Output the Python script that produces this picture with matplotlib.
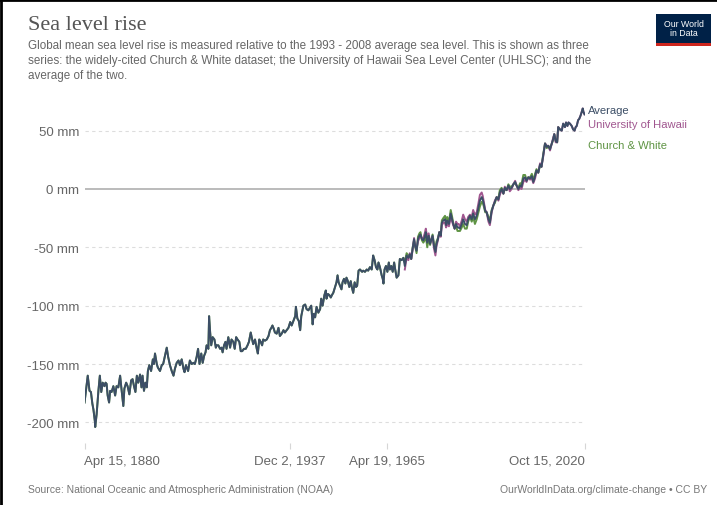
import numpy as np
import matplotlib.pyplot as plt
from matplotlib.lines import Line2D
from matplotlib.patches import Rectangle

# Average of the two series (mm)
years = [
    1880.3, 1881.2, 1881.7, 1882.1, 1882.5, 1882.8, 1883.2, 1883.3, 1883.7, 1884.2,
    1884.6, 1885.0, 1885.4, 1885.9, 1886.2, 1886.5, 1886.8, 1887.2, 1887.5, 1887.9,
    1888.4, 1888.9, 1889.3, 1889.8, 1890.3, 1890.6, 1891.0, 1891.2, 1891.5, 1892.0,
    1892.4, 1892.9, 1893.4, 1893.8, 1894.2, 1894.6, 1895.0, 1895.4, 1895.9, 1896.3,
    1896.6, 1897.0, 1897.4, 1897.8, 1898.1, 1898.5, 1899.0, 1899.5, 1899.8, 1900.1,
    1900.6, 1900.9, 1901.5, 1902.0, 1902.4, 1902.9, 1903.4, 1903.8, 1904.3, 1904.8,
    1905.3, 1905.7, 1906.2, 1906.7, 1907.1, 1907.6, 1908.1, 1908.4, 1908.8, 1909.4,
    1909.9, 1910.4, 1910.9, 1911.3, 1911.8, 1912.2, 1912.6, 1913.1, 1913.5, 1913.9,
    1914.3, 1914.6, 1915.1, 1915.3, 1915.6, 1915.9, 1916.3, 1916.8, 1917.2, 1917.4,
    1917.9, 1918.4, 1918.8, 1919.1, 1919.5, 1919.9, 1920.2, 1920.7, 1921.2, 1921.6,
    1922.1, 1922.5, 1922.9, 1923.3, 1923.8, 1924.2, 1924.6, 1925.1, 1925.6, 1926.1,
    1926.5, 1927.0, 1927.4, 1927.7, 1928.2, 1928.7, 1929.0, 1929.4, 1929.8, 1930.2,
    1930.5, 1931.0, 1931.5, 1932.0, 1932.4, 1932.8, 1933.1, 1933.5, 1933.8, 1934.3,
    1934.8, 1935.2, 1935.7, 1936.2, 1936.6, 1937.1, 1937.6, 1938.1, 1938.5, 1939.0,
    1939.5, 1939.7, 1940.1, 1940.5, 1940.9, 1941.2, 1941.8, 1942.3, 1942.7, 1943.2,
    1944.0, 1944.4, 1944.7, 1945.1, 1945.5, 1946.0, 1946.5, 1946.8, 1947.2, 1947.7,
    1948.1, 1948.3, 1948.7, 1949.1, 1949.5, 1949.8, 1950.2, 1950.7, 1951.1, 1951.4,
    1951.7, 1952.1, 1952.5, 1952.8, 1953.2, 1953.6, 1953.9, 1954.3, 1954.7, 1955.1,
    1955.4, 1955.8, 1956.2, 1956.6, 1956.9, 1957.3, 1957.7, 1958.3, 1958.6, 1959.1,
    1959.6, 1960.0, 1960.5, 1961.0, 1961.4, 1961.8, 1962.2, 1962.6, 1962.9, 1963.3,
    1963.8, 1964.1, 1964.3, 1964.6, 1965.0, 1965.4, 1965.8, 1966.1, 1966.5, 1966.9,
    1967.3, 1967.6, 1968.0, 1968.5, 1968.9, 1969.4, 1969.9, 1970.3, 1970.8, 1971.3,
    1971.7, 1972.1, 1972.5, 1972.9, 1973.2, 1973.6, 1974.0, 1974.4, 1974.7, 1975.1,
    1975.5, 1975.9, 1976.2, 1976.6, 1977.0, 1977.4, 1977.7, 1978.1, 1978.5, 1978.9,
    1979.2, 1979.6, 1980.0, 1980.4, 1980.7, 1981.1, 1981.6, 1981.9, 1982.2, 1982.7,
    1983.2, 1983.6, 1983.9, 1984.3, 1984.7, 1985.1, 1985.4, 1985.8, 1986.3, 1986.7,
    1987.2, 1987.7, 1988.1, 1988.6, 1989.1, 1989.5, 1990.0, 1990.5, 1991.0, 1991.4,
    1991.9, 1992.2, 1992.5, 1992.9, 1993.3, 1993.8, 1994.2, 1994.7, 1995.2, 1995.6,
    1996.1, 1996.6, 1997.0, 1997.5, 1998.0, 1998.4, 1998.9, 1999.4, 1999.8, 2000.3,
    2000.8, 2001.3, 2001.7, 2002.2, 2002.7, 2003.1, 2003.6, 2004.1, 2004.5, 2005.0,
    2005.5, 2006.0, 2006.4, 2006.9, 2007.3, 2007.8, 2008.3, 2008.7, 2009.2, 2009.7,
    2010.2, 2010.6, 2011.1, 2011.6, 2012.0, 2012.3, 2012.7, 2013.1, 2013.4, 2013.9,
    2014.4, 2014.8, 2015.3, 2015.6, 2016.0, 2016.3, 2016.7, 2017.2, 2017.6, 2018.0,
    2018.3, 2018.6, 2019.0, 2019.3, 2019.7, 2020.0, 2020.3, 2020.5, 2020.8,
]
average_mm = [
    -183, -160, -173, -174, -184, -189, -199, -204, -193, -173,
    -160, -174, -166, -169, -166, -167, -177, -183, -173, -174,
    -169, -177, -169, -170, -160, -169, -180, -186, -171, -166,
    -169, -176, -164, -163, -169, -174, -160, -166, -159, -170,
    -160, -173, -166, -170, -156, -151, -156, -146, -150, -141,
    -150, -153, -156, -151, -150, -143, -136, -144, -151, -156,
    -160, -154, -149, -147, -151, -146, -154, -157, -151, -156,
    -147, -150, -149, -150, -144, -137, -150, -141, -149, -143,
    -140, -134, -137, -109, -123, -134, -127, -129, -136, -134,
    -134, -137, -136, -140, -134, -131, -137, -127, -136, -129,
    -131, -137, -127, -129, -131, -139, -139, -137, -137, -134,
    -131, -123, -129, -133, -129, -137, -141, -129, -131, -134,
    -129, -130, -129, -126, -121, -119, -117, -120, -123, -124,
    -119, -126, -124, -121, -123, -121, -119, -114, -117, -113,
    -109, -101, -111, -113, -121, -109, -100, -99, -103, -104,
    -100, -116, -107, -110, -101, -106, -103, -94, -100, -91,
    -87, -94, -90, -91, -93, -91, -89, -84, -80, -74,
    -80, -83, -86, -80, -77, -81, -76, -79, -84, -79,
    -84, -89, -80, -84, -83, -70, -69, -71, -70, -71,
    -69, -70, -67, -69, -57, -61, -67, -69, -63, -67,
    -74, -77, -81, -69, -66, -71, -63, -69, -66, -71,
    -63, -69, -76, -74, -60, -61, -59, -66, -57, -59,
    -56, -60, -51, -43, -49, -53, -43, -40, -39, -43,
    -44, -41, -37, -46, -40, -47, -44, -40, -49, -54,
    -47, -43, -37, -40, -29, -27, -26, -31, -27, -30,
    -21, -26, -30, -34, -30, -33, -33, -34, -30, -26,
    -30, -31, -26, -23, -26, -21, -26, -23, -16, -10,
    -7, -9, -13, -19, -20, -26, -29, -19, -14, -11,
    -7, -9, -3, 0, -4, 1, -1, 3, 0, 1,
    4, 6, 3, 0, 3, 2, 9, 10, 7, 10,
    9, 11, 6, 11, 16, 14, 21, 19, 29, 39,
    36, 37, 34, 39, 43, 47, 41, 40, 53, 51,
    50, 56, 53, 57, 54, 57, 56, 54, 51, 50,
    53, 54, 59, 60, 63, 66, 69, 66, 64,
]

# University of Hawaii minus average, over the years both series exist (1970-2013)
overlap_start, overlap_end = 1970.3, 2013.9
hawaii_offset = [
    -3, -2, -2, 1, 0, -1, 1, 0, 2, -2,
    -2, -2, 1, 2, 3, 3, 4, 2, 1, 0,
    -1, -2, -3, -2, -1, 0, -1, -2, -2, -3,
    -2, -3, -2, -3, -2, -1, 0, 2, 3, 3,
    2, 3, 4, 4, 3, 2, 1, 2, 3, 4,
    3, 4, 5, 4, 3, 2, 1, 0, -2, -2,
    -1, 0, 1, 0, -1, -2, -1, 0, 1, 0,
    -1, -2, -1, 0, 1, 0, -1, -2, -2, -3,
    -2, -1, 0, -1, -2, -1, -2, -1, 0, 1,
    0, -1, 0, 1, 0, -1, 0, 1, 0, -1,
    0, 0, 0,
]

tick_years = [1880.29, 1937.92, 1965.30, 2020.79]
tick_labels = ['Apr 15, 1880', 'Dec 2, 1937', 'Apr 19, 1965', 'Oct 15, 2020']
y_ticks = [-200, -150, -100, -50, 0, 50]

series_names = ['Average', 'University of Hawaii', 'Church & White']
series_colors = ['#3c4e66', '#a0568f', '#5f9444']

years = np.array(years)
average_mm = np.array(average_mm, dtype=float)
overlap = (years >= overlap_start - 0.05) & (years <= overlap_end + 0.05)
offset = np.zeros_like(average_mm)
offset[overlap] = hawaii_offset

# Church & White runs to 2013, UHSLC starts in 1970
cw_mask = years <= overlap_end + 0.05
uh_mask = years >= overlap_start - 0.05
church_white = (average_mm - offset)[cw_mask]
hawaii = (average_mm + offset)[uh_mask]

W, H = 717, 506
fig = plt.figure(figsize=(W / 100, H / 100), dpi=100)
fig.patch.set_facecolor('white')

plt.rcParams['font.family'] = ['Liberation Sans', 'DejaVu Sans']

# plot area in pixels: x 84.5..584.5, y 108..444
left, right, top, bottom = 84.5, 584.5, 108.3, 444.0
ax = fig.add_axes([left / W, 1 - bottom / H, (right - left) / W, (bottom - top) / H])

ax.plot(years[cw_mask], church_white, color=series_colors[2], lw=1.4, zorder=2)
ax.plot(years[uh_mask], hawaii, color=series_colors[1], lw=1.4, zorder=3)
ax.plot(years, average_mm, color=series_colors[0], lw=1.4, zorder=4)

ax.set_xlim(tick_years[0], tick_years[-1])
ax.set_ylim(-217.7, 70)

for s in ax.spines.values():
    s.set_visible(False)

ax.set_yticks(y_ticks)
ax.set_yticklabels([f'{v} mm' for v in y_ticks])
ax.tick_params(axis='y', length=0, pad=4, labelsize=9.5, labelcolor='#666666')
for v in y_ticks:
    if v == 0:
        ax.axhline(v, color='#a8a8a8', lw=1.1, zorder=1)
    else:
        ax.axhline(v, color='#dddddd', lw=0.8, ls=(0, (3, 3)), zorder=1)

ax.set_xticks(tick_years)
ax.set_xticklabels(tick_labels)
ax.tick_params(axis='x', direction='out', length=4.5, width=0.8, color='#d6d6d6',
               pad=4, labelsize=9.5, labelcolor='#666666')
xl = ax.get_xticklabels()
xl[0].set_horizontalalignment('left')
xl[-1].set_horizontalalignment('right')

# series labels at line ends
for name, color, yv in zip(series_names, series_colors, [68, 56, 37.5]):
    ax.text(2021.9, yv, name, color=color, fontsize=8.1, va='center', ha='left', clip_on=False)

# header
fig.text(28 / W, 1 - 25 / H, 'Sea level rise', fontsize=16, color='#555555',
         family=['Liberation Serif', 'DejaVu Serif'], va='center', ha='left')
subtitle = ('Global mean sea level rise is measured relative to the 1993 - 2008 average sea level. This is shown as three\n'
            'series: the widely-cited Church & White dataset; the University of Hawaii Sea Level Center (UHLSC); and the\n'
            'average of the two.')
fig.text(28 / W, 1 - 40.5 / H, subtitle, fontsize=8.4, color='#666666', va='top', ha='left',
         linespacing=1.33)

# logo
fig.patches.append(Rectangle((656 / W, 1 - 47 / H), 55 / W, 32 / H, transform=fig.transFigure,
                             facecolor='#002147', edgecolor='none'))
fig.patches.append(Rectangle((656 / W, 1 - 47 / H), 55 / W, 3 / H, transform=fig.transFigure,
                             facecolor='#ce261e', edgecolor='none'))
fig.text(683.5 / W, 1 - 29 / H, 'Our World\nin Data', fontsize=6.3, color='white',
         ha='center', va='center', linespacing=1.0)

# footer
fig.text(28 / W, 1 - 490 / H, 'Source: National Oceanic and Atmospheric Administration (NOAA)',
         fontsize=7.5, color='#777777', va='center', ha='left')
fig.text(707 / W, 1 - 490 / H, 'OurWorldInData.org/climate-change \u2022 CC BY',
         fontsize=7.5, color='#777777', va='center', ha='right')

# screenshot border on top and left edges
fig.add_artist(Line2D([0, 1], [1 - 1 / H, 1 - 1 / H], color='black', lw=2, transform=fig.transFigure))
fig.add_artist(Line2D([1 / W, 1 / W], [0, 1], color='black', lw=2, transform=fig.transFigure))

fig.savefig('out.png', dpi=100)
